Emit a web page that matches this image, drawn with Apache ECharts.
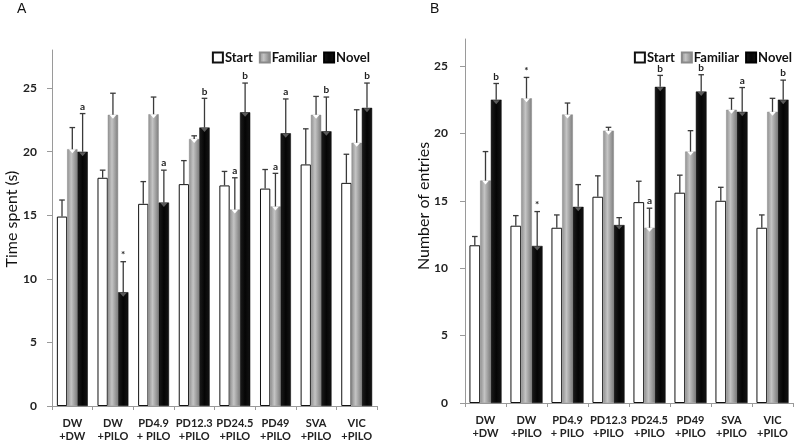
<!DOCTYPE html>
<html><head><meta charset="utf-8">
<script src="https://cdn.jsdelivr.net/npm/echarts@6/dist/echarts.min.js"></script>
<style>html,body{margin:0;padding:0;background:#fff}#c{width:800px;height:443px}</style>
</head><body><div id="c"></div>
<script>
const categories = ['DW\n+DW','DW\n+PILO','PD4.9\n+ PILO','PD12.3\n+PILO','PD24.5\n+PILO','PD49\n+PILO','SVA\n+PILO','VIC\n+PILO'];
const seriesNames = ['Start','Familiar','Novel'];
const yTicks = [0,5,10,15,20,25];

// Panel A: Time spent (s)
const startA    = [14.9, 17.95, 15.9, 17.45, 17.35, 17.1, 19.0, 17.55];
const startAErr = [16.2, 18.55, 17.65, 19.3, 18.45, 18.6, 21.8, 19.8];
const famA      = [20.2, 22.9, 22.95, 21.0, 15.45, 15.7, 22.9, 20.7];
const famAErr   = [21.9, 24.6, 24.3, 21.25, 17.95, 18.3, 24.35, 23.3];
const novelA    = [20.0, 8.95, 16.0, 21.9, 23.1, 21.45, 21.6, 23.45];
const novelAErr = [23.0, 11.35, 18.55, 24.2, 25.4, 24.15, 24.3, 25.4];
const startALbl = ['', '', '', '', '', '', '', ''];
const famALbl   = ['', '', '', '', 'a', 'a', '', ''];
const novelALbl = ['a', '*', 'a', 'b', 'b', 'a', 'b', 'b'];

// Panel B: Number of entries
const startB    = [11.7, 13.15, 13.0, 15.3, 14.9, 15.6, 15.0, 13.0];
const startBErr = [12.35, 13.9, 13.95, 16.85, 16.45, 16.9, 16.0, 13.95];
const famB      = [16.5, 22.6, 21.4, 20.2, 13.0, 18.65, 21.75, 21.6];
const famBErr   = [18.65, 24.15, 22.25, 20.45, 14.45, 20.2, 22.6, 22.6];
const novelB    = [22.5, 11.65, 14.55, 13.2, 23.45, 23.1, 21.6, 22.5];
const novelBErr = [23.7, 14.2, 16.2, 13.75, 24.3, 24.35, 23.4, 23.95];
const startBLbl = ['', '', '', '', '', '', '', ''];
const famBLbl   = ['', '*', '', '', 'a', '', '', ''];
const novelBLbl = ['b', '*', '', '', 'b', 'b', 'a', 'b'];

const FONT = 'Lato, "Open Sans", sans-serif';
const grayGrad = new echarts.graphic.LinearGradient(0,0,1,0,[
  {offset:0,color:'#8f8f8f'},{offset:0.4,color:'#c4c4c4'},{offset:1,color:'#7c7c7c'}]);
const blackGrad = new echarts.graphic.LinearGradient(0,0,1,0,[
  {offset:0,color:'#1c1c1c'},{offset:0.5,color:'#050505'},{offset:1,color:'#141414'}]);
const barStyles = [
  {color:'#ffffff', borderColor:'#111', borderWidth:1},
  {color:grayGrad, borderColor:'#8a8a8a', borderWidth:0.5},
  {color:blackGrad, borderColor:'#000', borderWidth:0.5}
];

function barSeries(name, idx, vals, gi, bw){
  return {type:'bar', name:name, xAxisIndex:gi, yAxisIndex:gi, data:vals,
    barWidth:bw, barGap:'0%', itemStyle:barStyles[idx], z:2, silent:true};
}
function errSeries(idx, vals, errs, lbls, gi, bw){
  const data = vals.map((v,i)=>[i, v, errs[i], lbls[i]]);
  return {type:'custom', xAxisIndex:gi, yAxisIndex:gi, z:5, silent:true,
    encode:{x:0, y:[1,2]},
    data:data,
    renderItem:function(params, api){
      const i = api.value(0);
      const c = api.coord([i, api.value(1)]);
      const e = api.coord([i, api.value(2)]);
      const x = c[0] + (idx-1)*bw;
      const top = c[1], et = e[1];
      const lbl = lbls[i];
      const ch = [];
      if(idx===1){
        ch.push({type:'polygon', shape:{points:[[x-3.5,top],[x+3.5,top],[x,top+4]]}, style:{fill:'#ffffff'}});
      } else if(idx===2){
        ch.push({type:'polygon', shape:{points:[[x-3.5,top+0.5],[x+3.5,top+0.5],[x,top+4.5]]}, style:{fill:'#5a5a5a'}});
      }
      ch.push({type:'line', shape:{x1:x, y1:top, x2:x, y2:et}, style:{stroke:'#3a3a3a', lineWidth:1.3}});
      ch.push({type:'line', shape:{x1:x-2.8, y1:et, x2:x+2.8, y2:et}, style:{stroke:'#3a3a3a', lineWidth:1.3}});
      if(lbl){
        ch.push({type:'text', x:x, y:et-2, style:{text:lbl, fill:'#222', font:'bold 10px '+FONT, textAlign:'center', textVerticalAlign:'bottom'}});
      }
      return {type:'group', children:ch};
    }};
}

function xAx(gi){
  return {type:'category', gridIndex:gi, data:categories,
    axisLine:{lineStyle:{color:'#9a9a9a', width:1}},
    axisTick:{show:true, length:4, lineStyle:{color:'#9a9a9a'}},
    axisLabel:{color:'#222', fontFamily:FONT, fontWeight:'bold', fontSize:11, lineHeight:13, margin:11, interval:0}};
}
function yAx(gi, max, margin){
  return {type:'value', gridIndex:gi, min:0, max:max, interval:5,
    splitLine:{show:false},
    axisLine:{show:true, lineStyle:{color:'#9a9a9a', width:1}},
    axisTick:{show:true, length:5, customValues:yTicks, lineStyle:{color:'#9a9a9a'}},
    axisLabel:{customValues:yTicks, color:'#222', fontFamily:FONT, fontWeight:'bold', fontSize:12, margin:margin}};
}

const bwA = 10.3, bwB = 10.7;
const legendCommon = {orient:'horizontal', icon:'rect', itemWidth:10, itemHeight:10, itemGap:6, width:220,
  textStyle:{color:'#111', fontFamily:FONT, fontWeight:'bold', fontSize:13, padding:[0,0,0,-3]},
  data:seriesNames, selectedMode:false};

const option = {
  animation:false,
  backgroundColor:'#fff',
  grid:[
    {left:52, right:423, top:50, bottom:37},
    {left:465, right:7, top:39, bottom:40}
  ],
  xAxis:[xAx(0), xAx(1)],
  yAxis:[yAx(0,28,15), yAx(1,27,17)],
  legend:[
    Object.assign({right:425, top:46}, legendCommon),
    Object.assign({right:3, top:46}, legendCommon)
  ],
  graphic:[
    {type:'text', left:17, top:2, style:{text:'A', font:'14px "Liberation Sans", Arial, sans-serif', fill:'#111'}},
    {type:'text', left:430, top:2, style:{text:'B', font:'14px "Liberation Sans", Arial, sans-serif', fill:'#111'}},
    {type:'text', x:12, y:219, rotation:Math.PI/2, style:{text:'Time spent (s)', font:'16px '+FONT, fill:'#111', textAlign:'center', textVerticalAlign:'middle'}},
    {type:'text', x:424, y:206, rotation:Math.PI/2, style:{text:'Number of entries', font:'16px '+FONT, fill:'#111', textAlign:'center', textVerticalAlign:'middle'}}
  ],
  series:[
    barSeries('Start',0,startA,0,bwA),
    barSeries('Familiar',1,famA,0,bwA),
    barSeries('Novel',2,novelA,0,bwA),
    errSeries(0,startA,startAErr,startALbl,0,bwA),
    errSeries(1,famA,famAErr,famALbl,0,bwA),
    errSeries(2,novelA,novelAErr,novelALbl,0,bwA),
    barSeries('Start',0,startB,1,bwB),
    barSeries('Familiar',1,famB,1,bwB),
    barSeries('Novel',2,novelB,1,bwB),
    errSeries(0,startB,startBErr,startBLbl,1,bwB),
    errSeries(1,famB,famBErr,famBLbl,1,bwB),
    errSeries(2,novelB,novelBErr,novelBLbl,1,bwB)
  ]
};
const chart = echarts.init(document.getElementById('c'), null, {renderer:'canvas'});
chart.setOption(option);
</script></body></html>
